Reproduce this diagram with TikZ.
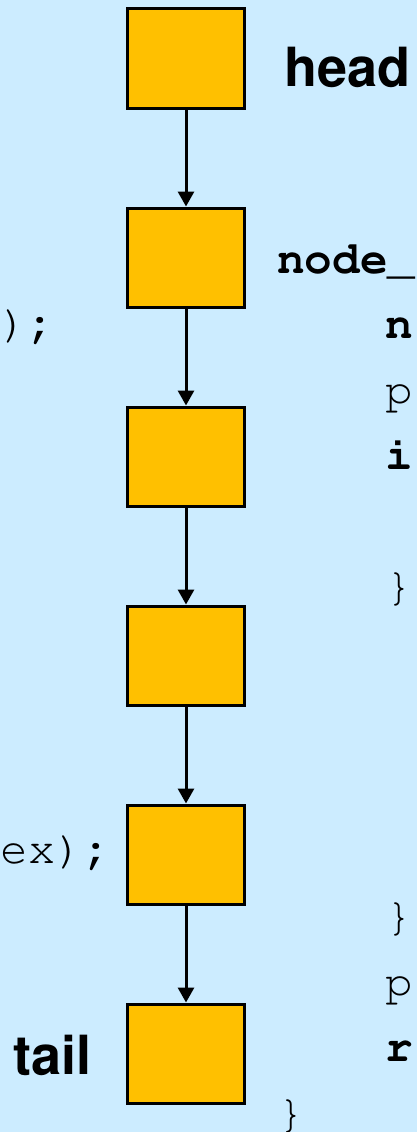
\documentclass[tikz,border=0pt]{standalone}
\usepackage[T1]{fontenc}
\usepackage{helvet}
\usepackage{courier}
\usetikzlibrary{positioning}
\usetikzlibrary{arrows.meta}

\definecolor{slideblue}{RGB}{204,236,255}
\definecolor{boxorange}{RGB}{255,192,0}

\begin{document}
\begin{tikzpicture}[x=1pt,y=1pt,
  elem/.style={rectangle,draw,fill=boxorange,line width=3pt,minimum width=117pt,minimum height=99pt,inner sep=0pt},
  nxt/.style={-{Triangle[width=16pt,length=15pt]},line width=3pt},
  code/.style={anchor=base west,inner sep=0pt,font=\fontsize{46}{50}\selectfont\ttfamily},
  lbl/.style={anchor=base west,inner sep=0pt,font=\fontsize{54}{60}\selectfont\sffamily\bfseries}]

\fill[slideblue] (0,0) rectangle (417,-1132);
\useasboundingbox (0,0) rectangle (417,-1132);

\node[elem] (e1) at (186,-58.5) {};

\node[elem, below=97pt of e1] (e2) {};

\node[elem, below=97pt of e2] (e3) {};

\node[elem, below=97pt of e3] (e4) {};

\node[elem, below=97pt of e4] (e5) {};

\node[elem, below=97pt of e5] (e6) {};

\draw[nxt] (e1) -- (e2);
\draw[nxt] (e2) -- (e3);
\draw[nxt] (e3) -- (e4);
\draw[nxt] (e4) -- (e5);
\draw[nxt] (e5) -- (e6);

\node[lbl] (head) at (284,-86) {head};
\node[lbl] (tail) at (13,-1074) {tail};

% code on the right
\node[code] (c1) at (277,-273) {\textbf{node\_}};
\node[code] (c2) at (385,-338) {\textbf{n}};
\node[code] (c3) at (385,-404) {p};
\node[code] (c4) at (385,-469) {\textbf{i}};
\node[code] (c5) at (385,-600) {\}};
\node[code] (c6) at (385,-930) {\}};
\node[code] (c7) at (385,-996) {p};
\node[code] (c8) at (385,-1061) {\textbf{r}};
\node[code] (c9) at (277,-1127) {\}};

% code on the left
\node[code] (l1) at (0,-337) {)\textbf{;}};
\node[code] (l2) at (0,-863) {ex)\textbf{;}};

\end{tikzpicture}
\end{document}
